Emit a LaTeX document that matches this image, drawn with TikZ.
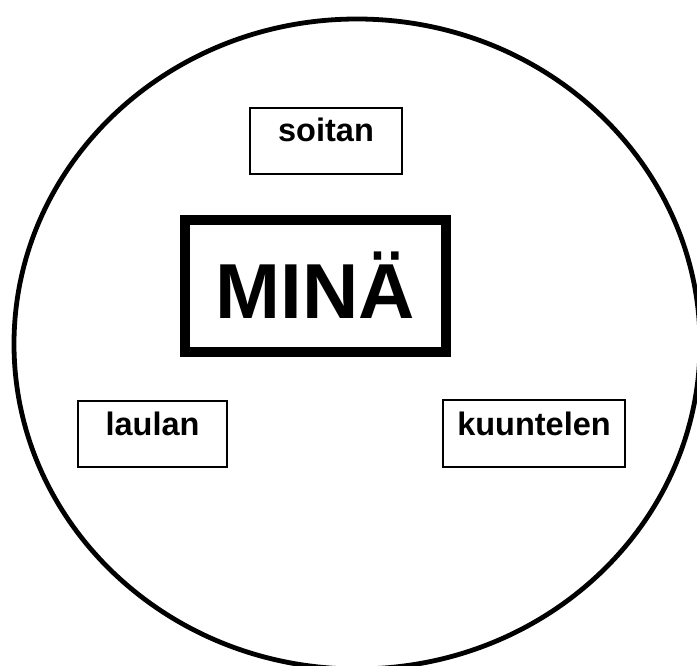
\documentclass[tikz,border=0pt]{standalone}
\usepackage{fontspec}
\setmainfont{Liberation Sans}

\begin{document}
\begin{tikzpicture}[x=1pt, y=-1pt,
    wordbox/.style={rectangle, draw, line width=2pt, inner sep=0pt,
      anchor=base, font=\fontsize{32.5}{36}\selectfont\bfseries},
    selfbox/.style={rectangle, draw, line width=10pt, inner sep=0pt,
      anchor=base, font=\fontsize{78}{86}\selectfont\bfseries}]
    \useasboundingbox (0,0) rectangle (697,666);
    \clip (0,0) rectangle (697,666);

    % 円
    \draw[line width=4.8pt] (357,344) ellipse [x radius=343pt, y radius=325pt];

    % ノード
    \node[selfbox, minimum width=261pt, text height=98pt, text depth=34pt] (mina) at (315.5,318) {MINÄ};
    \node[wordbox, minimum width=152pt, text height=34pt, text depth=32pt] (soitan) at (326,142) {soitan};
    \node[wordbox, minimum width=149pt, text height=34pt, text depth=32pt] (laulan) at (152.5,435) {laulan};
    \node[wordbox, minimum width=182pt, text height=35pt, text depth=32pt] (kuuntelen) at (534,435) {kuuntelen};
  \end{tikzpicture}
\end{document}
